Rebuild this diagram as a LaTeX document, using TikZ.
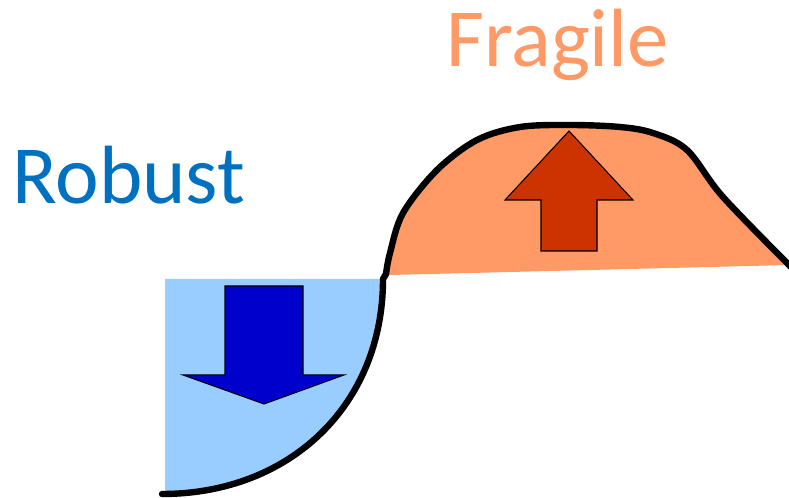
\documentclass[tikz,border=0pt]{standalone}
\usepackage{fontspec}
\setmainfont{Carlito}
\definecolor{robustblue}{HTML}{0070C0}
\definecolor{fragileorange}{HTML}{FF9966}
\definecolor{lightblue}{HTML}{99CCFF}
\definecolor{darkblue}{HTML}{0000CC}
\definecolor{darkred}{HTML}{CC3300}
\tikzset{
  curveline/.style={line width=4.8pt, line cap=round, line join=round},
  arrowshape/.style={draw=black, line width=0.8pt, line join=miter},
  bigtext/.style={font=\fontsize{62}{63}\selectfont, inner sep=0pt, anchor=base west}
}
\begin{document}
\begin{tikzpicture}[x=0.75pt, y=-0.75pt]
\useasboundingbox (0,0) rectangle (789,498);
% blue region
\fill[lightblue] (165,279) -- (383,279) .. controls (383,405) and (290,494) .. (165,494) -- cycle;
% orange region
\fill[fragileorange] plot[smooth, tension=0.55] coordinates {(386,274) (390,253) (403,213) (437,170) (477,140) (520,127) (570,125) (620,127) (653,133) (687,150) (723,197) (789,262)} -- (789,265) -- (390,275) -- cycle;
% arrows
\draw[arrowshape, fill=darkblue] (225,286) -- (303,286) -- (303,375) -- (344,375) -- (264,404) -- (183,375) -- (225,375) -- cycle;
\draw[arrowshape, fill=darkred] (569,131) -- (633,200) -- (597,200) -- (597,251) -- (541,251) -- (541,200) -- (505,200) -- cycle;
% black curve
\draw[curveline] (162,494) .. controls (290,494) and (383,405) .. (383,279) -- (386,274);
\draw[curveline] plot[smooth, tension=0.55] coordinates {(386,274) (390,253) (403,213) (437,170) (477,140) (520,127) (570,125) (620,127) (653,133) (687,150) (723,197) (792,268)};
% labels
\node[bigtext, text=robustblue] (robust) at (12,204) {Robust};
\node[bigtext, text=fragileorange] (fragile) at (446,67) {Fragile};
\end{tikzpicture}
\end{document}
